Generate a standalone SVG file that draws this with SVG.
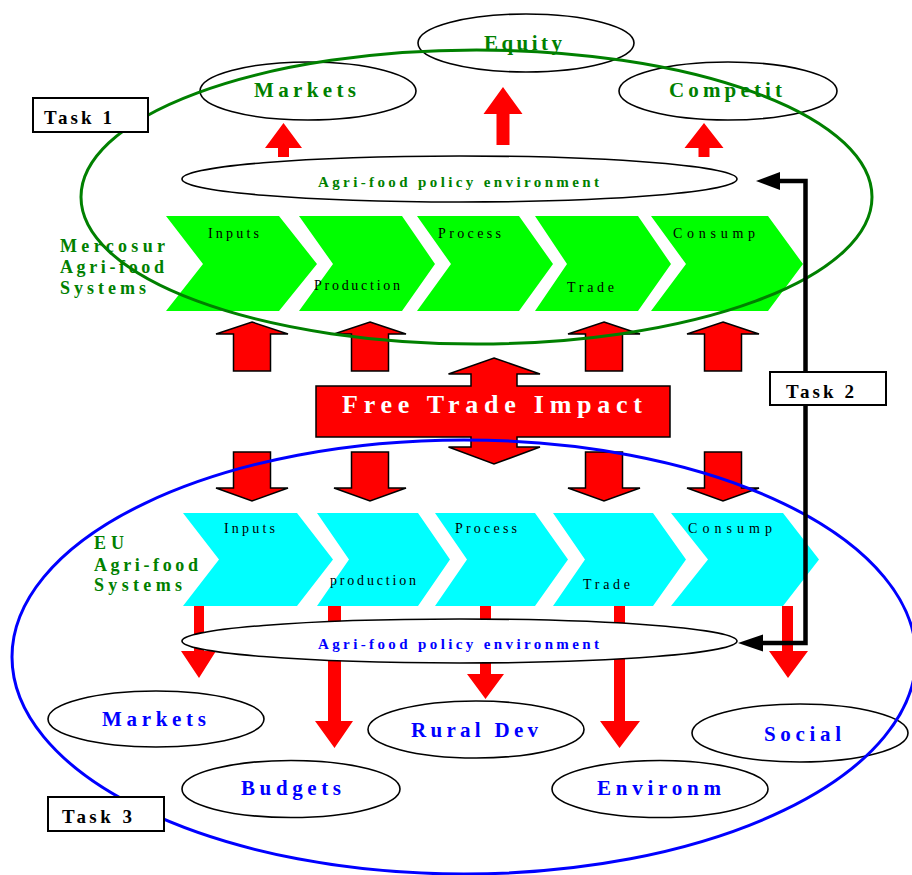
<svg xmlns="http://www.w3.org/2000/svg" xmlns:xlink="http://www.w3.org/1999/xlink" width="912" height="875" viewBox="0 0 912 875">
<style>
text{font-family:"Liberation Serif","Times New Roman",serif}
.oval{fill:#fff;stroke:#000;stroke-width:1.6}
.lg{font-size:21px;font-weight:bold}
.g{fill:#008000}
.b{fill:#0000ff}
.pol{font-size:15px;font-weight:bold}
.chv{font-size:14px;fill:#000}
.sys{font-size:18px;font-weight:bold;fill:#008000}
.task rect{fill:#fff;stroke:#000;stroke-width:2}
.task text{font-size:19px;font-weight:bold;fill:#000}
.red{fill:#ff0000}
.bigarrow{fill:#ff0000;stroke:#000;stroke-width:1.5;stroke-linejoin:miter}
.gch{fill:#00ff00}
.cch{fill:#00ffff}
.conn{fill:none;stroke:#000;stroke-width:4.5}
</style>
<defs>
<polygon id="upA" points="0,322 36,334 18.5,334 18.5,371 -18.5,371 -18.5,334 -36,334" class="bigarrow"/>
<polygon id="dnA" points="-18.5,452 18.5,452 18.5,488 36,488 0,501 -36,488 -18.5,488" class="bigarrow"/>
</defs>

<!-- top outcome ovals -->
<g id="equity"><ellipse class="oval" cx="526" cy="43" rx="108" ry="29"/><text class="lg g" x="484" y="50" textLength="78" lengthAdjust="spacing">Equity</text></g>
<g id="markets-top"><ellipse class="oval" cx="308" cy="91" rx="108" ry="29"/><text class="lg g" x="254" y="97" textLength="102" lengthAdjust="spacing">Markets</text></g>
<g id="competit"><ellipse class="oval" cx="728" cy="91" rx="109" ry="29"/><text class="lg g" x="669" y="97" textLength="113" lengthAdjust="spacing">Competit</text></g>

<!-- top red arrows -->
<g id="top-arrows">
<polygon class="red" points="283.5,123 302,148 289,148 289,157 278,157 278,148 265,148"/>
<polygon class="red" points="503,87 522.5,114 509.5,114 509.5,145 496.5,145 496.5,114 483.5,114"/>
<polygon class="red" points="704,123 723.5,148 709.5,148 709.5,157 698.5,157 698.5,148 684.5,148"/>
</g>

<g id="policy-top"><ellipse class="oval" cx="459.5" cy="179" rx="277.5" ry="23"/><text class="pol g" x="318" y="187" textLength="281" lengthAdjust="spacing">Agri-food policy environment</text></g>

<!-- Mercosur chain -->
<g id="mercosur-chain">
<path class="gch" d="M166,216 L279,216 L317,264 L279,311 L166,311 L203,264 Z"/>
<path class="gch" d="M299,216 L402,216 L435,264 L402,311 L299,311 L333,264 Z"/>
<path class="gch" d="M417,216 L519,216 L553,264 L519,311 L417,311 L451,264 Z"/>
<path class="gch" d="M535,216 L638,216 L671,264 L638,311 L535,311 L567,264 Z"/>
<path class="gch" d="M651,216 L768,216 L803,264 L768,311 L651,311 L686,264 Z"/>
<text class="chv" x="208" y="238" textLength="51" lengthAdjust="spacing">Inputs</text>
<text class="chv" x="314" y="290" textLength="86" lengthAdjust="spacing">Production</text>
<text class="chv" x="438" y="238" textLength="63" lengthAdjust="spacing">Process</text>
<text class="chv" x="567" y="292" textLength="47" lengthAdjust="spacing">Trade</text>
<text class="chv" x="673" y="238" textLength="82" lengthAdjust="spacing">Consump</text>
</g>
<g id="mercosur-label">
<text class="sys" x="60" y="252" textLength="105" lengthAdjust="spacing">Mercosur</text>
<text class="sys" x="60" y="273" textLength="104" lengthAdjust="spacing">Agri-food</text>
<text class="sys" x="60" y="294" textLength="86" lengthAdjust="spacing">Systems</text>
</g>

<!-- middle arrows -->
<g id="impact-arrows">
<use xlink:href="#upA" x="252"/><use xlink:href="#upA" x="370"/><use xlink:href="#upA" x="604"/><use xlink:href="#upA" x="723"/>
<use xlink:href="#dnA" x="252"/><use xlink:href="#dnA" x="370"/><use xlink:href="#dnA" x="604"/><use xlink:href="#dnA" x="723"/>
</g>
<g id="free-trade">
<polygon class="bigarrow" points="494,358 540,374 517,374 517,386 670,386 670,437 517,437 517,447 540,447 494,464 448.5,447 471,447 471,437 316,437 316,386 471,386 471,374 448.5,374"/>
<text x="342" y="413" font-size="26" font-weight="bold" fill="#fff" textLength="300" lengthAdjust="spacing">Free Trade Impact</text>
</g>

<!-- EU chain -->
<g id="eu-chain">
<path class="cch" d="M183,513 L297,513 L333,559.5 L297,606 L183,606 L219,559.5 Z"/>
<path class="cch" d="M317,513 L418,513 L450,559.5 L418,606 L317,606 L349,559.5 Z"/>
<path class="cch" d="M435,513 L535,513 L568,559.5 L535,606 L435,606 L467,559.5 Z"/>
<path class="cch" d="M553,513 L653,513 L686,559.5 L653,606 L553,606 L585,559.5 Z"/>
<path class="cch" d="M671,513 L783,513 L819,559.5 L783,606 L671,606 L708,559.5 Z"/>
<text class="chv" x="224" y="533" textLength="51" lengthAdjust="spacing">Inputs</text>
<text class="chv" x="330" y="585" textLength="86" lengthAdjust="spacing">production</text>
<text class="chv" x="455" y="533" textLength="62" lengthAdjust="spacing">Process</text>
<text class="chv" x="583" y="589" textLength="47" lengthAdjust="spacing">Trade</text>
<text class="chv" x="688" y="533" textLength="84" lengthAdjust="spacing">Consump</text>
</g>
<g id="eu-label">
<text class="sys" x="94" y="549" textLength="30" lengthAdjust="spacing">E U</text>
<text class="sys" x="94" y="571" textLength="104" lengthAdjust="spacing">Agri-food</text>
<text class="sys" x="94" y="591" textLength="88" lengthAdjust="spacing">Systems</text>
</g>

<!-- bottom red arrows -->
<g id="bottom-arrows">
<polygon class="red" points="194,606 204,606 204,651 216,651 199,678 181,651 194,651"/>
<polygon class="red" points="328,606 341,606 341,721 353,721 334.5,748 315,721 328,721"/>
<polygon class="red" points="480,606 491,606 491,674 504,674 485.5,699 467,674 480,674"/>
<polygon class="red" points="614,606 625,606 625,721 640,721 619.5,748 600,721 614,721"/>
<polygon class="red" points="782,606 793,606 793,651 808,651 788,678 769,651 782,651"/>
</g>

<g id="policy-bottom"><ellipse class="oval" cx="459.5" cy="641" rx="277.5" ry="22"/><text class="pol b" x="318" y="649" textLength="281" lengthAdjust="spacing">Agri-food policy environment</text></g>

<!-- bottom outcome ovals -->
<g id="markets-bottom"><ellipse class="oval" cx="156" cy="719" rx="108" ry="28"/><text class="lg b" x="102" y="726" textLength="104" lengthAdjust="spacing">Markets</text></g>
<g id="budgets"><ellipse class="oval" cx="291" cy="789" rx="109" ry="28.5"/><text class="lg b" x="241" y="795" textLength="100" lengthAdjust="spacing">Budgets</text></g>
<g id="rural-dev"><ellipse class="oval" cx="476" cy="729.5" rx="108" ry="28.5"/><text class="lg b" x="411" y="737" textLength="127" lengthAdjust="spacing">Rural Dev</text></g>
<g id="environm"><ellipse class="oval" cx="660" cy="789" rx="108" ry="28.5"/><text class="lg b" x="597" y="795" textLength="124" lengthAdjust="spacing">Environm</text></g>
<g id="social"><ellipse class="oval" cx="800" cy="733" rx="108" ry="29"/><text class="lg b" x="764" y="741" textLength="77" lengthAdjust="spacing">Social</text></g>

<!-- scope ellipses -->
<g id="mercosur-scope"><ellipse cx="476.5" cy="197" rx="395.5" ry="147" fill="none" stroke="#008000" stroke-width="3"/></g>
<g id="eu-scope"><ellipse cx="464" cy="657" rx="452" ry="217" fill="none" stroke="#0000ff" stroke-width="3"/></g>

<!-- connectors -->
<g id="connectors">
<polyline class="conn" points="779,181 805.5,181 805.5,643 762,643"/>
<polygon points="756,181 780,172 780,190" fill="#000"/>
<polygon points="738,643 763,634.5 763,651.5" fill="#000"/>
</g>

<!-- task boxes -->
<g id="task1" class="task"><rect x="33" y="98" width="115" height="34"/><text x="44" y="124" textLength="68" lengthAdjust="spacing">Task 1</text></g>
<g id="task2" class="task"><rect x="770" y="372" width="116" height="33"/><text x="786" y="398" textLength="68" lengthAdjust="spacing">Task 2</text></g>
<g id="task3" class="task"><rect x="48" y="797" width="116" height="34"/><text x="62" y="823" textLength="70" lengthAdjust="spacing">Task 3</text></g>
</svg>
